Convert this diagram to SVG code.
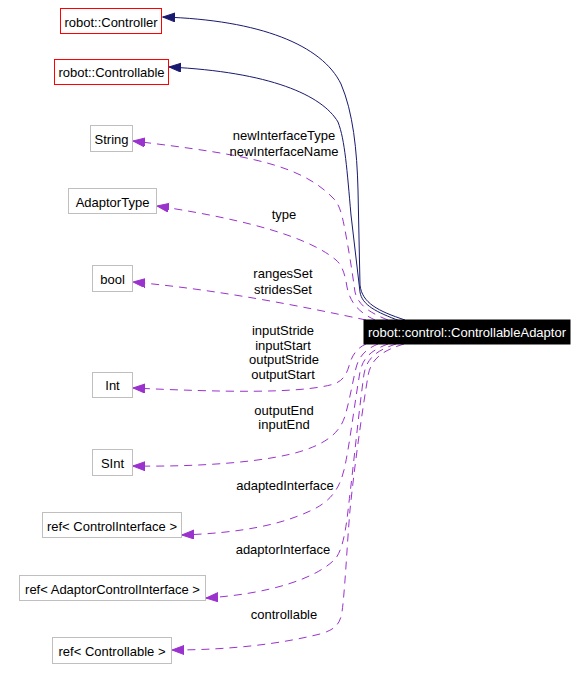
<svg xmlns="http://www.w3.org/2000/svg" width="587" height="680" viewBox="0 0 587 680">
<style>
text{font-family:"Liberation Sans",Arial,sans-serif;font-size:13px;fill:#000}
.n{text-anchor:middle}
.red{fill:#fff;stroke:#ff0000;stroke-width:1}
.gray{fill:#fff;stroke:#bfbfbf;stroke-width:1}
.main{fill:#000;stroke:#000}
.inh{fill:none;stroke:#191970;stroke-width:1;marker-end:url(#ab)}
.use{fill:none;stroke:#9a32cd;stroke-width:1;stroke-dasharray:8,6;marker-end:url(#ap)}
.lbl{text-anchor:middle}
</style>
<defs>
<marker id="ab" markerWidth="13" markerHeight="10" refX="12" refY="4.5" orient="auto" markerUnits="userSpaceOnUse"><path d="M0,0 L12,4.5 L0,9 z" fill="#191970" stroke="#191970" stroke-width="1"/></marker>
<marker id="ap" markerWidth="13" markerHeight="10" refX="12" refY="4.5" orient="auto" markerUnits="userSpaceOnUse"><path d="M0,0 L12,4.5 L0,9 z" fill="#9a32cd" stroke="#9a32cd" stroke-width="1"/></marker>
</defs>
<rect width="587" height="680" fill="#fff"/>
<g id="edges">
<path class="inh" d="M405,320 C378,311 362,303 360,285 L358,190 C357,150 353,112 341,84 C322,45 260,20 163,17"/>
<path class="inh" d="M400,321 C376,312 362,305 360,292 L351,215 C347,170 345,140 338,122 C322,95 270,72 169,67"/>
<path class="use" d="M388,320 C370,313 358,305 355,292 C352,270 348,245 344,225 C341,210 338,202 332,197 C300,165 250,155 133,141"/>
<path class="use" d="M375,320 C358,312 350,302 347,287 C345,274 342,265 336,260 C310,238 250,220 157,206"/>
<path class="use" d="M366,320 C300,306 220,290 133,282"/>
<path class="use" d="M366,344 C357,348 352,355 349,366 C346,376 342,381 334,384 C300,394 220,392 133,388"/>
<path class="use" d="M378,344 C366,349 359,356 356,368 C352,385 349,403 345,416 C340,432 328,442 305,450 C270,462 200,467 133,466"/>
<path class="use" d="M388,344 C372,350 363,357 360,372 C355,400 349,450 344,470 C339,490 330,502 310,511 C280,525 240,533 182,535"/>
<path class="use" d="M396,344 C378,350 367,357 364,374 C359,410 353,470 349,502 C346,530 343,548 336,558 C318,578 270,594 206,598"/>
<path class="use" d="M404,344 C384,350 371,358 368,376 C362,412 354,470 350,510 C347,545 345,590 342,612 C340,625 334,630 320,634 C280,644 230,650 172,650"/>
</g>
<g id="labels">
<text class="lbl" x="284" y="140">newInterfaceType</text>
<text class="lbl" x="284" y="156">newInterfaceName</text>
<text class="lbl" x="284" y="219">type</text>
<text class="lbl" x="283" y="278">rangesSet</text>
<text class="lbl" x="283" y="294">stridesSet</text>
<text class="lbl" x="283" y="335">inputStride</text>
<text class="lbl" x="283" y="350">inputStart</text>
<text class="lbl" x="284" y="364">outputStride</text>
<text class="lbl" x="283" y="379">outputStart</text>
<text class="lbl" x="284" y="415">outputEnd</text>
<text class="lbl" x="284" y="429">inputEnd</text>
<text class="lbl" x="285" y="490">adaptedInterface</text>
<text class="lbl" x="283" y="554">adaptorInterface</text>
<text class="lbl" x="284" y="619">controllable</text>
</g>
<g id="node-main"><rect class="main" x="364" y="320" width="206" height="24"/><text class="n" x="467" y="337" style="fill:#fff">robot::control::ControllableAdaptor</text></g>
<g id="node-controller"><rect class="red" x="60.5" y="8.5" width="101" height="25"/><text class="n" x="111" y="27">robot::Controller</text></g>
<g id="node-controllable"><rect class="red" x="54.5" y="59.5" width="114" height="25"/><text class="n" x="111.5" y="77">robot::Controllable</text></g>
<g id="node-string"><rect class="gray" x="90.5" y="125.5" width="42" height="26"/><text class="n" x="111.5" y="144">String</text></g>
<g id="node-adaptortype"><rect class="gray" x="68.5" y="188.5" width="88" height="25"/><text class="n" x="112.5" y="207">AdaptorType</text></g>
<g id="node-bool"><rect class="gray" x="92.5" y="265.5" width="40" height="26"/><text class="n" x="112.5" y="284">bool</text></g>
<g id="node-int"><rect class="gray" x="92.5" y="372.5" width="40" height="25"/><text class="n" x="112.5" y="390">Int</text></g>
<g id="node-sint"><rect class="gray" x="92.5" y="449.5" width="40" height="26"/><text class="n" x="112.5" y="468">SInt</text></g>
<g id="node-refci"><rect class="gray" x="42.5" y="512.5" width="139" height="25"/><text class="n" x="112" y="531">ref&lt; ControlInterface &gt;</text></g>
<g id="node-refaci"><rect class="gray" x="19.5" y="575.5" width="186" height="25"/><text class="n" x="112.5" y="594">ref&lt; AdaptorControlInterface &gt;</text></g>
<g id="node-refc"><rect class="gray" x="52.5" y="637.5" width="119" height="26"/><text class="n" x="112" y="656">ref&lt; Controllable &gt;</text></g>
</svg>
